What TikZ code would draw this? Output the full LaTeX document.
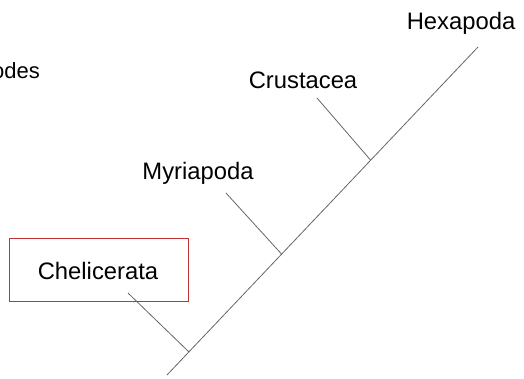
\documentclass[tikz,border=0pt]{standalone}
\usepackage{fontspec}
\setmainfont{Liberation Sans}
\begin{document}
\begin{tikzpicture}[x=1pt,y=-1pt,
  lbl/.style={font=\fontsize{23.8}{28}\selectfont, inner sep=0pt},
  branch/.style={draw=gray!80!black, line width=0.8pt},
  redbox/.style={draw=red!70!black!80, line width=0.8pt, minimum width=179pt, minimum height=63pt, inner sep=0pt}]
\useasboundingbox (0,0) rectangle (524,378);
\node[lbl, font=\fontsize{22}{26}\selectfont, anchor=base east] (odes) at (40,78) {odes};
\node[lbl] (hex) at (461,23) {Hexapoda};
\node[lbl] (cru) at (303,80) {Crustacea};
\node[lbl] (myr) at (198,173) {Myriapoda};
\node[redbox] (box) at (98.5,269.5) {};
\node[lbl] (che) at (98,271) {Chelicerata};
\coordinate (root) at (167,375);
\coordinate (tip) at (478,47);
\coordinate (j1) at (189,352);
\coordinate (j2) at (281.5,254);
\coordinate (j3) at (370.5,160);
\coordinate (b1) at (128,293);
\coordinate (b2) at (226,193);
\coordinate (b3) at (317,98);
\draw[branch] (root) -- (tip);
\draw[branch] (b1) -- (j1);
\draw[branch] (b2) -- (j2);
\draw[branch] (b3) -- (j3);
\end{tikzpicture}
\end{document}
